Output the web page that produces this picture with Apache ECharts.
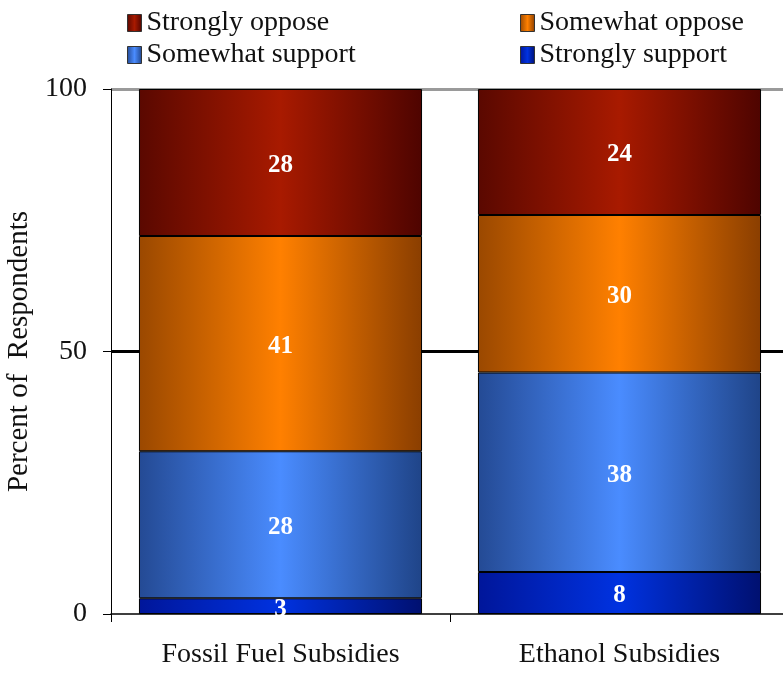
<!DOCTYPE html>
<html>
<head>
<meta charset="utf-8">
<script src="https://cdn.jsdelivr.net/npm/echarts@6/dist/echarts.min.js"></script>
<style>
  html, body { margin: 0; padding: 0; background: #fff; }
  #chart { width: 783px; height: 673px; }
</style>
</head>
<body>
<div id="chart"></div>
<script>
// Survey responses on energy subsidies (percent of respondents)
const categories = ['Fossil Fuel Subsidies', 'Ethanol Subsidies'];
const stronglySupport = [3, 8];
const somewhatSupport = [28, 38];
const somewhatOppose = [41, 30];
const stronglyOppose = [28, 24];
const yTicks = [0, 50, 100];

const FONT = '"Liberation Serif", "DejaVu Serif", serif';

// horizontal gradient: dark edges, bright middle
function shade(edgeL, mid, edgeR) {
  return new echarts.graphic.LinearGradient(0, 0, 1, 0, [
    { offset: 0, color: edgeL },
    { offset: 0.5, color: mid },
    { offset: 1, color: edgeR }
  ]);
}

const seriesDefs = [
  { name: 'Strongly support', data: stronglySupport, color: shade('#00169a', '#0032e0', '#001070') },
  { name: 'Somewhat support', data: somewhatSupport, color: shade('#244a94', '#4a8cff', '#1f4488') },
  { name: 'Somewhat oppose', data: somewhatOppose, color: shade('#9a4800', '#ff8000', '#8a3e00') },
  { name: 'Strongly oppose', data: stronglyOppose, color: shade('#5a0800', '#a81a00', '#4e0400') }
];

const series = seriesDefs.map(s => ({
  name: s.name,
  type: 'bar',
  stack: 'total',
  barWidth: '83.5%',
  data: s.data,
  itemStyle: { color: s.color, borderColor: '#000', borderWidth: 1 },
  label: {
    show: true,
    position: 'inside',
    offset: [0, 3],
    color: '#fff',
    fontFamily: FONT,
    fontWeight: 'bold',
    fontSize: 25
  }
}));

function legendAt(name, left, top) {
  return {
    data: [name],
    left: left,
    top: top,
    icon: 'rect',
    itemWidth: 14,
    itemHeight: 17,
    itemGap: 6,
    selectedMode: false,
    itemStyle: { borderColor: '#333', borderWidth: 1 },
    textStyle: { fontFamily: FONT, fontSize: 28, color: '#111' }
  };
}

const chart = echarts.init(document.getElementById('chart'), null, { renderer: 'canvas' });
chart.setOption({
  animation: false,
  backgroundColor: '#fff',
  legend: [
    legendAt('Strongly oppose', 122, 4),
    legendAt('Somewhat oppose', 515, 4),
    legendAt('Somewhat support', 122, 36),
    legendAt('Strongly support', 515, 36)
  ],
  grid: { left: 111, top: 89, width: 678, height: 525, containLabel: false, outerBoundsMode: 'none' },
  xAxis: {
    type: 'category',
    data: categories,
    axisLine: { lineStyle: { color: '#000', width: 1.5 } },
    axisTick: { show: true, length: 8, lineStyle: { color: '#000' } },
    axisLabel: { margin: 27, color: '#111', fontFamily: FONT, fontSize: 28 }
  },
  yAxis: {
    type: 'value',
    min: 0,
    max: 100,
    interval: 50,
    name: 'Percent of  Respondents',
    nameLocation: 'middle',
    nameGap: 75,
    nameTextStyle: { fontFamily: FONT, fontSize: 29, color: '#111' },
    axisLine: { show: true, lineStyle: { color: '#000', width: 1 } },
    axisTick: { show: true, length: 8, lineStyle: { color: '#000' } },
    axisLabel: {
      margin: 24,
      color: '#111',
      fontFamily: FONT,
      fontSize: 28,
      formatter: v => (yTicks.indexOf(v) >= 0 ? String(v) : '')
    },
    splitLine: { show: true, lineStyle: { color: ['rgba(0,0,0,0)', '#000', '#9a9a9a'], width: 3 } }
  },
  series: series
});
</script>
</body>
</html>
